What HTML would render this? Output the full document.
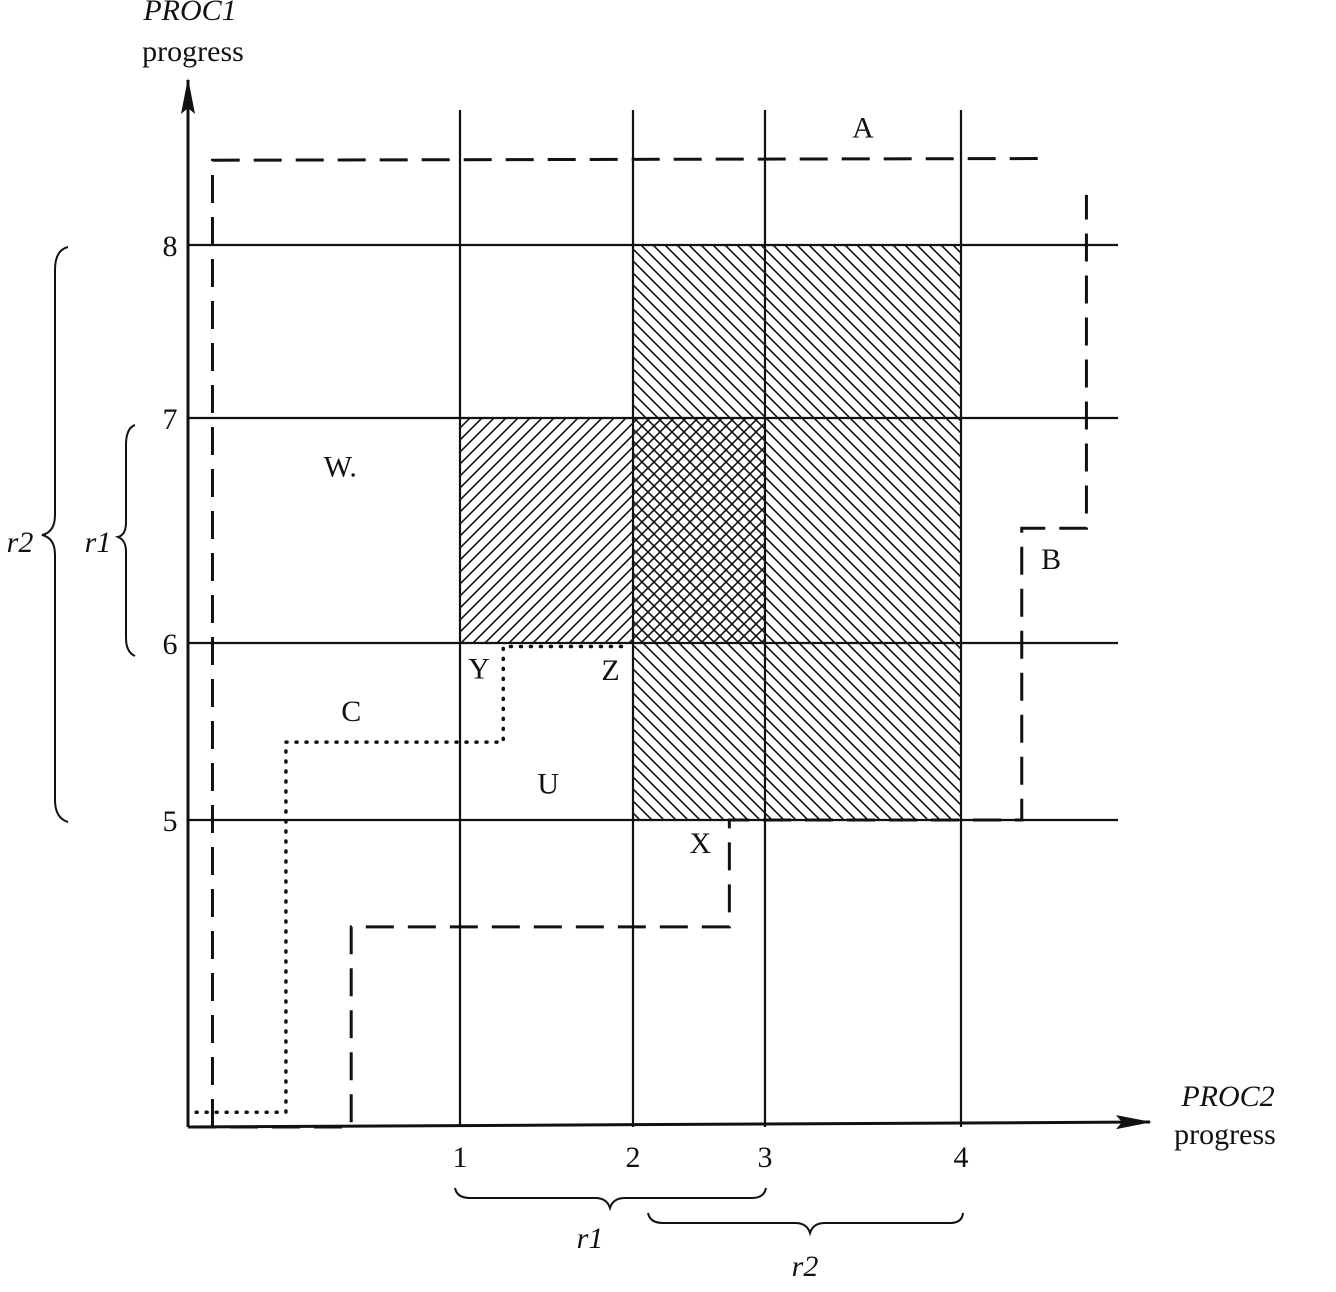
<!DOCTYPE html>
<html><head><meta charset="utf-8"><style>
body{margin:0;background:#fff}
svg{display:block}
text{font-family:"Liberation Serif",serif;fill:#111}
</style></head><body>
<svg id="chart" width="1336" height="1292" viewBox="0 0 1336 1292" xmlns="http://www.w3.org/2000/svg">
<defs>
<pattern id="back" patternUnits="userSpaceOnUse" width="12" height="12"><path d="M-2,-2 L14,14 M-2,10 L2,14 M10,-2 L14,2" stroke="#111" stroke-width="1.6"/></pattern>
<pattern id="fwd" patternUnits="userSpaceOnUse" width="12" height="12"><path d="M-2,14 L14,-2 M-2,2 L2,-2 M10,14 L14,10" stroke="#111" stroke-width="1.6"/></pattern>
<marker id="arrU" markerWidth="36" markerHeight="14" refX="34" refY="7" orient="auto" markerUnits="userSpaceOnUse"><path d="M0,0 L36,7 L0,14 L6,7 Z" fill="#111"/></marker>
</defs>
<g id="plot"></g>
</svg>
<script>
// data
const xTicks=[1,2,3,4];
const yTicks=[5,6,7,8];
const regionR1={x0:1,x1:3,y0:6,y1:7};
const regionR2={x0:2,x1:4,y0:5,y1:8};
const pathA=[[0.09,0],[0.09,8.49],[4.44,8.5]];
const pathB=[[0,0],[0.6,0],[0.6,3.26],[2.73,3.26],[2.73,5],[4.31,5],[4.31,6.51],[4.64,6.51],[4.64,8.29]];
const pathC=[[0.03,0.24],[0.36,0.24],[0.36,5.44],[1.25,5.44],[1.25,5.98],[1.98,5.98]];
const pointLabels=[["A",3.5,8.62],["B",4.46,6.33],["C",0.6,5.56],["W.",0.56,6.74],["U",1.51,5.15],["X",2.51,4.46],["Y",1.11,5.8],["Z",1.87,5.79]];
// axis functions
const xp=[188,460,633,765,961];
function X(v){let i=Math.min(3,Math.max(0,Math.floor(v)));return xp[i]+(v-i)*(xp[i+1]-xp[i]);}
const yv=[0,5,6,7,8],yp=[1127,820,643,418,245];
function Y(v){let i=v<5?0:Math.min(3,Math.floor(v)-4);return yp[i]+(v-yv[i])*(yp[i+1]-yp[i])/(yv[i+1]-yv[i]);}
const g=document.getElementById('plot');const NS='http://www.w3.org/2000/svg';
function el(t,a,txt){const e=document.createElementNS(NS,t);for(const k in a)e.setAttribute(k,a[k]);if(txt!==undefined)e.textContent=txt;g.appendChild(e);return e;}
function rect(r,fill,name){const e=el('rect',{x:X(r.x0),y:Y(r.y1),width:X(r.x1)-X(r.x0),height:Y(r.y0)-Y(r.y1),fill:fill});

}
rect(regionR2,'url(#back)','region-r2-hatch');
rect(regionR1,'url(#fwd)','region-r1-hatch');
xTicks.forEach(t=>{const l=el('line',{x1:X(t),x2:X(t),y1:110,y2:1127,stroke:'#111','stroke-width':2.2});


const tx=el('text',{x:X(t),y:1167,'font-size':30,'text-anchor':'middle'},t);

});
yTicks.forEach(t=>{const l=el('line',{x1:188,x2:1118,y1:Y(t),y2:Y(t),stroke:'#111','stroke-width':2.2});


const tx=el('text',{x:170,y:Y(t)+11,'font-size':30,'text-anchor':'middle'},t);

});
function path(p,dash,name){const d=p.map((q,i)=>(i?'L':'M')+X(q[0])+','+Y(q[1])).join(' ');
const e=el('path',{d:d,fill:'none',stroke:'#111','stroke-width':dash==='dot'?3.5:3,'stroke-dasharray':dash==='dot'?'1 9':'28 14','stroke-linecap':dash==='dot'?'round':'butt'});

}
path(pathA,'dash','path-a');path(pathB,'dash','path-b');path(pathC,'dot','path-c');
pointLabels.forEach(p=>{const t=el('text',{x:X(p[1]),y:Y(p[2]),'font-size':30,'text-anchor':'middle'},p[0]);

});
const ax1=el('line',{x1:188,y1:1127,x2:188,y2:80,stroke:'#111','stroke-width':3,'marker-end':'url(#arrU)'});


const ax2=el('line',{x1:188,y1:1127,x2:1150,y2:1122,stroke:'#111','stroke-width':3,'marker-end':'url(#arrU)'});


function brace(d,name){const e=el('path',{d:d,fill:'none',stroke:'#111','stroke-width':2});

}
brace('M68,247 Q55,250 55,270 L55,515 Q55,532 42,535 Q55,538 55,555 L55,800 Q55,818 68,822','brace-left-r2');
brace('M135,425 Q126,428 126,445 L126,522 Q126,535 118,537 Q126,540 126,552 L126,638 Q126,652 135,656','brace-left-r1');
brace('M455,1188 Q457,1198 470,1198 L595,1198 Q607,1198 610,1208 Q613,1198 625,1198 L752,1198 Q764,1198 766,1188','brace-bottom-r1');
brace('M648,1213 Q650,1223 663,1223 L795,1223 Q807,1223 810,1233 Q813,1223 825,1223 L950,1223 Q962,1223 963,1213','brace-bottom-r2');
const texts=[["r2",20,552,"brace-label-left-r2",true],["r1",98,552,"brace-label-left-r1",true],["r1",590,1248,"brace-label-bottom-r1",true],["r2",805,1276,"brace-label-bottom-r2",true],
["PROC1",190,20,"y-axis-title",true],["progress",193,61,"y-axis-subtitle",false],["PROC2",1228,1106,"x-axis-title",true],["progress",1225,1144,"x-axis-subtitle",false]];
texts.forEach(t=>{const e=el('text',{x:t[1],y:t[2],'font-size':30,'text-anchor':'middle','font-style':t[4]?'italic':'normal'},t[0]);

});
</script>
</body></html>
